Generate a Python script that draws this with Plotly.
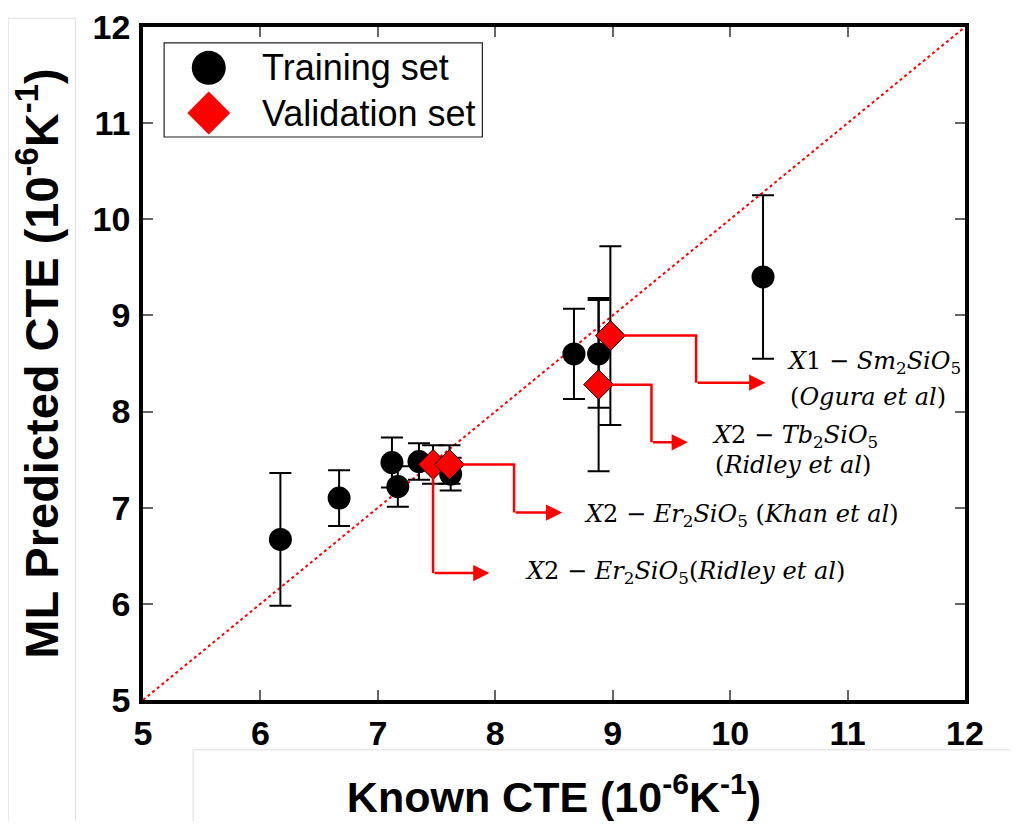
import plotly.graph_objects as go

# ---- data ----
train_x = [6.17, 6.67, 7.12, 7.17, 7.35, 7.62, 8.67, 8.88, 10.28]
train_y = [6.67, 7.10, 7.47, 7.22, 7.48, 7.35, 8.60, 8.60, 9.40]
train_err = [0.69, 0.29, 0.26, 0.21, 0.19, 0.17, 0.47, 0.56, 0.85]

val_x = [7.47, 7.61, 8.88, 8.98]
val_y = [7.45, 7.45, 8.28, 8.79]
val_err = [0.20, 0.20, 0.90, 0.93]

axis_ticks = [5, 6, 7, 8, 9, 10, 11, 12]
legend_names = ["Training set", "Validation set"]

label_lines = [
    ["<i>X</i>1 − <i>Sm</i><sub>2</sub><i>SiO</i><sub>5</sub>", "(<i>Ogura et al</i>)"],
    ["<i>X</i>2 − <i>Tb</i><sub>2</sub><i>SiO</i><sub>5</sub>", "(<i>Ridley et al</i>)"],
    ["<i>X</i>2 − <i>Er</i><sub>2</sub><i>SiO</i><sub>5</sub> (<i>Khan et al</i>)"],
    ["<i>X</i>2 − <i>Er</i><sub>2</sub><i>SiO</i><sub>5</sub>(<i>Ridley et al</i>)"],
]

RED = "#ff0000"
fig = go.Figure()

# identity line
fig.add_trace(go.Scatter(x=[axis_ticks[0], axis_ticks[-1]], y=[axis_ticks[0], axis_ticks[-1]],
                         mode="lines", line=dict(color=RED, width=2, dash="dot"),
                         showlegend=False, hoverinfo="skip"))

fig.add_trace(go.Scatter(x=train_x, y=train_y, mode="markers", name=legend_names[0],
                         marker=dict(symbol="circle", size=23, color="black"),
                         error_y=dict(type="data", array=train_err, visible=True,
                                      color="black", thickness=2, width=11),
                         showlegend=False))
fig.add_trace(go.Scatter(x=val_x, y=val_y, mode="markers", name=legend_names[1],
                         marker=dict(symbol="diamond", size=23, color=RED,
                                     line=dict(color="black", width=1)),
                         error_y=dict(type="data", array=val_err, visible=True,
                                      color="black", thickness=2, width=11),
                         showlegend=False))

# ---- manual legend (big markers) ----
fig.add_trace(go.Scatter(x=[5.56], y=[11.575], mode="markers",
                         marker=dict(symbol="circle", size=34, color="black"),
                         showlegend=False, hoverinfo="skip"))
fig.add_trace(go.Scatter(x=[5.56], y=[11.105], mode="markers",
                         marker=dict(symbol="diamond", size=33, color=RED),
                         showlegend=False, hoverinfo="skip"))
shapes = [dict(type="rect", xref="x", yref="y", x0=5.18, x1=7.89, y0=10.856, y1=11.834,
               line=dict(color="#222", width=1.2), fillcolor="rgba(0,0,0,0)")]
annotations = []
for name, yy in zip(legend_names, [11.575, 11.105]):
    annotations.append(dict(x=6.0, y=yy, xref="x", yref="y", text=name, showarrow=False,
                            xanchor="left", yanchor="middle",
                            font=dict(family="Liberation Sans, Arial", size=36, color="black")))

# ---- callout arrows (elbow connectors) ----
v = list(zip(val_x, val_y))
paths = [
    [v[3], (9.71, v[3][1]), (9.71, 8.30)],
    [v[2], (9.33, v[2][1]), (9.33, 7.68)],
    [v[1], (8.16, v[1][1]), (8.16, 6.95)],
    [v[0], (v[0][0], 6.32)],
]
tips = [10.30, 9.64, 8.57, 7.95]
for pts, tip in zip(paths, tips):
    d = "M " + " L ".join(f"{px},{py}" for px, py in pts)
    shapes.append(dict(type="path", xref="x", yref="y", path=d,
                       line=dict(color=RED, width=2.5)))
    ex, ey = pts[-1]
    annotations.append(dict(x=tip, y=ey, ax=ex, ay=ey, xref="x", yref="y",
                            axref="x", ayref="y", text="", showarrow=True,
                            arrowhead=2, arrowsize=1.3, arrowwidth=2.5, arrowcolor=RED,
                            standoff=0))

label_pos = [
    [(10.47, 8.51), (10.49, 8.15)],
    [(9.83, 7.74), (9.85, 7.44)],
    [(8.74, 6.92)],
    [(8.24, 6.33)],
]
for lines, poss in zip(label_lines, label_pos):
    for txt, (px, py) in zip(lines, poss):
        annotations.append(dict(x=px, y=py, xref="x", yref="y", text=txt, showarrow=False,
                                xanchor="left", yanchor="middle",
                                font=dict(family="DejaVu Serif", size=24, color="black")))

# light grey frame artefacts
grey = dict(color="#dedede", width=1)
for x0, y0, x1, y1 in [(-0.164, 1.013, -0.164, -0.2), (-0.082, 1.013, -0.082, -0.2),
                       (-0.164, 1.013, -0.082, 1.013), (0.061, -0.074, 1.07, -0.074),
                       (0.061, -0.184, 1.07, -0.184), (0.061, -0.074, 0.061, -0.2)]:
    shapes.append(dict(type="line", xref="paper", yref="paper", x0=x0, y0=y0, x1=x1, y1=y1,
                       line=grey, layer="below"))

axis_common = dict(range=[axis_ticks[0], axis_ticks[-1]], tickvals=axis_ticks,
                   showgrid=False, zeroline=False, showline=True, linecolor="black",
                   linewidth=3.5, mirror="ticks", ticks="inside", ticklen=10, tickwidth=2,
                   tickcolor="#666", automargin=False, ticklabeloverflow="allow",
                   tickfont=dict(family="Liberation Sans, Arial", size=34, color="black",
                                 weight="bold"))

# page body has an 8px margin, so the figure is 16px smaller than the window
fig.update_layout(
    width=1002, height=813,
    margin=dict(l=135, r=45, t=19, b=121),
    plot_bgcolor="white", paper_bgcolor="white",
    xaxis=dict(**axis_common, ticklabelstandoff=0,
               title=dict(text="Known CTE (10<sup>-6</sup>K<sup>-1</sup>)", standoff=35,
                          font=dict(family="Liberation Sans, Arial", size=43, color="black",
                                    weight="bold"))),
    yaxis=dict(**axis_common, ticklabelstandoff=2,
               title=dict(text="ML Predicted CTE (10<sup>-6</sup>K<sup>-1</sup>)", standoff=22,
                          font=dict(family="Liberation Sans, Arial", size=47, color="black",
                                    weight="bold"))),
    shapes=shapes, annotations=annotations, showlegend=False,
)

fig.write_html("out.html")
